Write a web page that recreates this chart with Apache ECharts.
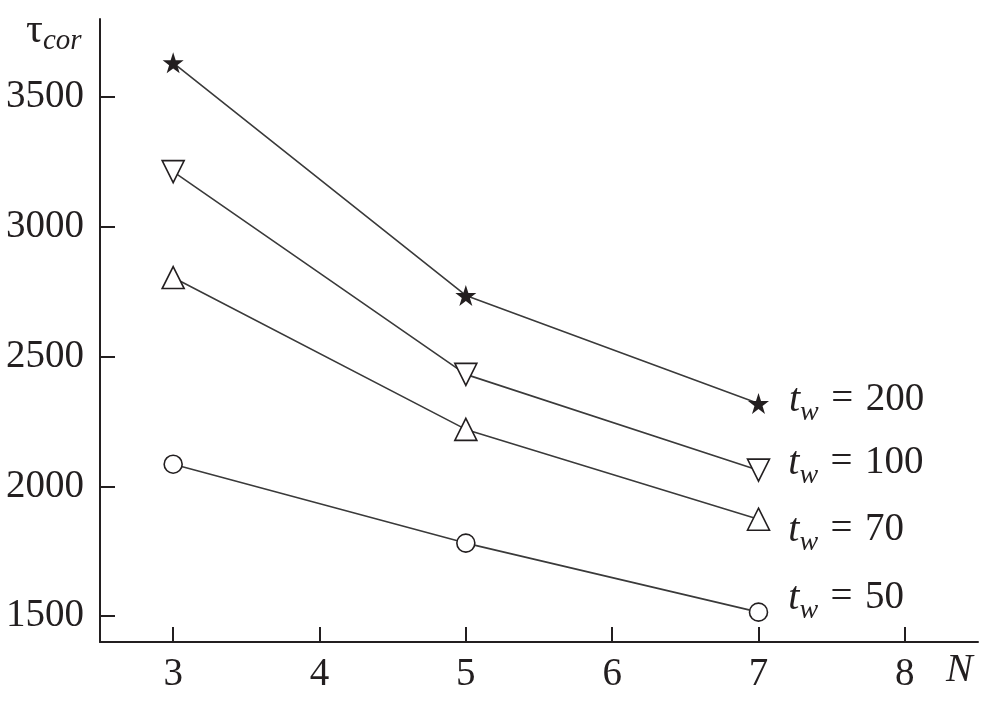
<!DOCTYPE html>
<html><head><meta charset="utf-8">
<script src="https://cdn.jsdelivr.net/npm/echarts@6/dist/echarts.min.js"></script>
<style>html,body{margin:0;padding:0;background:#fff}#c{width:986px;height:702px}</style>
</head><body><div id="c"></div>
<script>
const xValues = [3, 5, 7];
const tw200 = [3631, 2735, 2319];
const tw100 = [3212, 2431, 2062];
const tw70 = [2804, 2219, 1873];
const tw50 = [2085, 1781, 1515];
const seriesLabels = ['200', '100', '70', '50'];
const xTicks = [3, 4, 5, 6, 7, 8];
const yTicks = [1500, 2000, 2500, 3000, 3500];

const serif = '"Liberation Serif", "DejaVu Serif", serif';
const ink = '#231f20';
const starPath = 'path://M50,0 L61.8,35.3 L99,35.3 L68.9,57.1 L80.3,92.7 L50,70.8 L19.7,92.7 L31.1,57.1 L1,35.3 L38.2,35.3 Z';

const rich = {
  t: {fontFamily: serif, fontStyle: 'italic', fontSize: 40, color: ink, verticalAlign: 'top'},
  w: {fontFamily: serif, fontStyle: 'italic', fontSize: 28, color: ink, verticalAlign: 'top', padding: [18, 0, 0, 0]},
  e: {fontFamily: serif, fontSize: 39, color: ink, verticalAlign: 'top', width: 47, align: 'center'},
  v: {fontFamily: serif, fontSize: 39, color: ink, verticalAlign: 'top'}
};

function mk(vals, idx, symbol, size, rotate, filled, offset) {
  return {
    type: 'line',
    data: xValues.map((x, i) => [x, vals[i]]),
    symbol: symbol,
    symbolSize: size,
    symbolRotate: rotate,
    showAllSymbol: true,
    lineStyle: {color: '#3a3a3a', width: 1.6},
    itemStyle: {color: filled ? ink : '#fff', borderColor: ink, borderWidth: filled ? 0 : 1.6},
    z: 3,
    label: {
      show: true,
      position: 'right',
      distance: 0,
      offset: offset,
      formatter: (p) => p.dataIndex === 2 ? '{t|t}{w|w}{e|=}{v|' + seriesLabels[idx] + '}' : '',
      rich: rich
    },
    silent: true,
    animation: false
  };
}

const chart = echarts.init(document.getElementById('c'), null, {renderer: 'canvas'});
chart.setOption({
  backgroundColor: '#fff',
  animation: false,
  grid: {left: 100, right: 8, top: 19, bottom: 60, containLabel: false},
  xAxis: {
    type: 'value', min: 2.5, max: 8.5,
    axisLine: {show: true, onZero: false, lineStyle: {color: ink, width: 2}},
    axisTick: {show: true, inside: true, length: 15, customValues: xTicks, lineStyle: {color: ink, width: 2}},
    axisLabel: {customValues: xTicks, fontFamily: serif, fontSize: 39, color: ink, margin: 13, formatter: (v) => String(v)},
    splitLine: {show: false}
  },
  yAxis: {
    type: 'value', min: 1400, max: 3800,
    axisLine: {show: true, onZero: false, lineStyle: {color: ink, width: 2}},
    axisTick: {show: true, inside: true, length: 15, customValues: yTicks, lineStyle: {color: ink, width: 2}},
    axisLabel: {customValues: yTicks, fontFamily: serif, fontSize: 39, color: ink, margin: 16, formatter: (v) => String(v)},
    splitLine: {show: false}
  },
  graphic: [
    {type: 'text', left: 26, top: 10, style: {text: '{a|τ}{b|cor}', rich: {
      a: {fontFamily: serif, fontSize: 42, fill: ink, verticalAlign: 'top'},
      b: {fontFamily: serif, fontStyle: 'italic', fontSize: 29, fill: ink, verticalAlign: 'top', padding: [17, 0, 0, 0]}
    }}},
    {type: 'text', left: 946, top: 650, style: {text: 'N', fontFamily: serif, fontStyle: 'italic', fontSize: 40, fill: ink}}
  ],
  series: [
    mk(tw200, 0, starPath, 21, 0, true, [20, 0]),
    mk(tw100, 1, 'triangle', 22, 180, false, [18, -4]),
    mk(tw70, 2, 'triangle', 22, 0, false, [18, 14]),
    mk(tw50, 3, 'circle', 18, 0, false, [20, -11])
  ]
});
</script></body></html>
